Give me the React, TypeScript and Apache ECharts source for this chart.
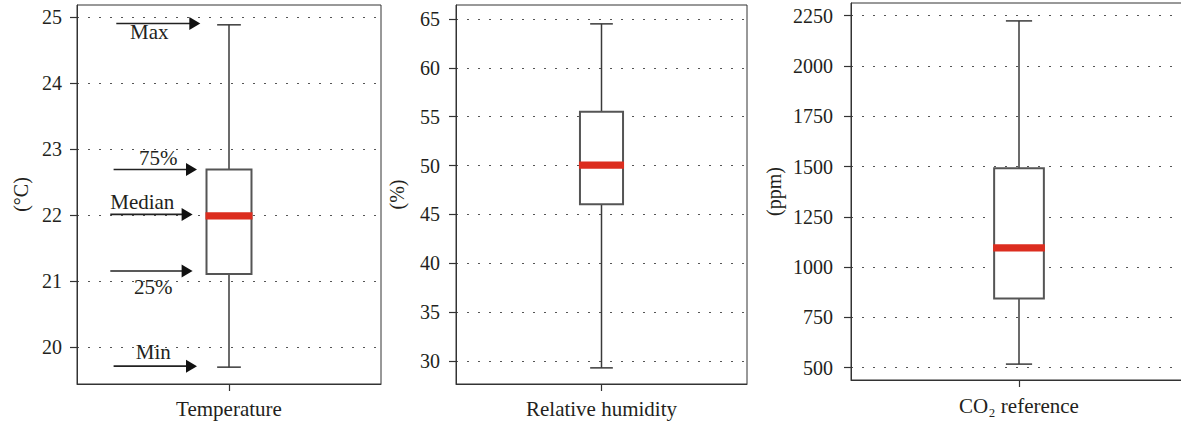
import React, { useEffect, useRef } from 'react';
import * as echarts from 'echarts';

// ---- data ----
const categories = ['Temperature', 'Relative humidity', 'CO₂ reference'];
const yAxisNames = ['(°C)', '(%)', '(ppm)'];
// [min, Q1, median, Q3, max]
const temperatureStats = [19.7, 21.11, 21.99, 22.69, 24.88];
const humidityStats = [29.3, 46.05, 50.05, 55.5, 64.5];
const co2Stats = [518, 844, 1096, 1492, 2224];
const temperatureTicks = [20, 21, 22, 23, 24, 25];
const humidityTicks = [30, 35, 40, 45, 50, 55, 60, 65];
const co2Ticks = [500, 750, 1000, 1250, 1500, 1750, 2000, 2250];
const yMins = [19.445, 27.65, 439];
const yMaxs = [25.18, 66.43, 2313];
const annotationLabels = ['Max', '75%', 'Median', '25%', 'Min'];
const annotationStatIndex = [4, 3, 2, 1, 0];

// ---- layout / style ----
const PANELS = [
  { left: 77, top: 5, width: 304, height: 379, labelMargin: 15, nameGap: 46, catMargin: 14 },
  { left: 456, top: 5, width: 291, height: 379, labelMargin: 16, nameGap: 49, catMargin: 14 },
  { left: 851, top: 3, width: 336, height: 377, labelMargin: 18, nameGap: 67, catMargin: 15 },
];
// offsets (px) relative to box centre and statistic position
const ANNOTATION_LAYOUT = [
  { startDx: -112.7, tipDx: -28.7, arrowDy: -1.4, textDx: -79.7, textDy: 7 },
  { startDx: -115.4, tipDx: -32, arrowDy: 0, textDx: -70.7, textDy: -11.8 },
  { startDx: -118.7, tipDx: -36.4, arrowDy: -1.4, textDx: -86.7, textDy: -13.7 },
  { startDx: -118.7, tipDx: -36.4, arrowDy: -3, textDx: -75.7, textDy: 12.6 },
  { startDx: -115.4, tipDx: -32, arrowDy: -1, textDx: -75.7, textDy: -15.3 },
];
const FONT = 'Liberation Serif';
const TEXT = '#231f20';
const FRAME = '#333';
const BOX_RATIO = 0.148;
const CAP_RATIO = 0.078;

function renderBox(params: any, api: any) {
  const c = api.value(0);
  const pts = [1, 2, 3, 4, 5].map((i) => api.coord([c, api.value(i)]));
  const [pMin, pQ1, pMed, pQ3, pMax] = pts;
  const cx = pMin[0];
  const band = api.size([1, 0])[0];
  const hb = (band * BOX_RATIO) / 2;
  const hc = (band * CAP_RATIO) / 2;
  const whisker = { stroke: '#3a3a3a', lineWidth: 1.5 };
  return {
    type: 'group',
    children: [
      { type: 'line', shape: { x1: cx, y1: pMax[1], x2: cx, y2: pQ3[1] }, style: whisker },
      { type: 'line', shape: { x1: cx, y1: pQ1[1], x2: cx, y2: pMin[1] }, style: whisker },
      { type: 'line', shape: { x1: cx - hc, y1: pMax[1], x2: cx + hc, y2: pMax[1] }, style: whisker },
      { type: 'line', shape: { x1: cx - hc, y1: pMin[1], x2: cx + hc, y2: pMin[1] }, style: whisker },
      {
        type: 'rect',
        shape: { x: cx - hb, y: pQ3[1], width: 2 * hb, height: pQ1[1] - pQ3[1] },
        style: { fill: '#fff', stroke: '#555', lineWidth: 2 },
      },
      {
        type: 'rect',
        shape: { x: cx - hb - 1, y: pMed[1] - 3.6, width: 2 * hb + 2, height: 7.2 },
        style: { fill: '#dc2d1f' },
      },
    ],
  };
}

function renderAnnotation(params: any, api: any) {
  const i = params.dataIndex;
  const L = ANNOTATION_LAYOUT[i];
  const p = api.coord([api.value(0), api.value(1)]);
  const cx = p[0];
  const y = p[1] + L.arrowDy;
  const tip = cx + L.tipDx;
  const head = 11;
  return {
    type: 'group',
    children: [
      {
        type: 'line',
        shape: { x1: cx + L.startDx, y1: y, x2: tip - head + 1, y2: y },
        style: { stroke: '#222', lineWidth: 1.6 },
      },
      {
        type: 'polygon',
        shape: { points: [[tip, y], [tip - head, y - 6.5], [tip - head, y + 6.5]] },
        style: { fill: '#111' },
      },
      {
        type: 'text',
        x: cx + L.textDx,
        y: p[1] + L.textDy,
        style: {
          text: annotationLabels[i],
          fontSize: 21,
          fontFamily: FONT,
          fill: TEXT,
          align: 'center',
          verticalAlign: 'middle',
        },
      },
    ],
  };
}

export default function App() {
  const ref = useRef<HTMLDivElement>(null);
  useEffect(() => {
    if (!ref.current) return;
    const chart = echarts.init(ref.current, undefined, { renderer: 'svg' });
    const statsList = [temperatureStats, humidityStats, co2Stats];
    const tickList = [temperatureTicks, humidityTicks, co2Ticks];

    const grid = PANELS.map((p) => ({
      left: p.left,
      top: p.top,
      width: p.width,
      height: p.height,
      show: true,
      borderColor: FRAME,
      borderWidth: 1,
      backgroundColor: 'transparent',
      containLabel: false,
      outerBoundsMode: 'none',
    }));

    const xAxis = PANELS.map((p, i) => ({
      type: 'category',
      gridIndex: i,
      data: [categories[i]],
      boundaryGap: true,
      axisLine: { show: true, lineStyle: { color: FRAME, width: 1 } },
      axisTick: { show: true, alignWithLabel: true, length: 7, lineStyle: { color: FRAME, width: 1.2 } },
      axisLabel: { fontSize: 21, fontFamily: FONT, color: TEXT, margin: p.catMargin },
      splitLine: { show: false },
    }));

    const yAxis = PANELS.map((p, i) => ({
      type: 'value',
      gridIndex: i,
      min: yMins[i],
      max: yMaxs[i],
      name: yAxisNames[i],
      nameLocation: 'middle',
      nameGap: p.nameGap,
      nameRotate: 90,
      nameTextStyle: { fontSize: 20, fontFamily: FONT, color: TEXT },
      axisLine: { show: true, lineStyle: { color: FRAME, width: 1 } },
      axisTick: { show: true, length: 7, customValues: tickList[i], lineStyle: { color: FRAME, width: 1.2 } },
      axisLabel: {
        fontSize: 20,
        fontFamily: FONT,
        color: TEXT,
        margin: p.labelMargin,
        customValues: tickList[i],
        formatter: (v: number) => String(v),
      },
      splitLine: { show: true, lineStyle: { type: [2, 9], color: '#555', width: 1.2 } },
    }));

    const series: any[] = statsList.map((s, i) => ({
      type: 'custom',
      xAxisIndex: i,
      yAxisIndex: i,
      renderItem: renderBox,
      encode: { x: 0, y: [1, 2, 3, 4, 5] },
      data: [[0, ...s]],
      clip: false,
      z: 3,
    }));
    series.push({
      type: 'custom',
      xAxisIndex: 0,
      yAxisIndex: 0,
      renderItem: renderAnnotation,
      encode: { x: 0, y: 1 },
      data: annotationStatIndex.map((k) => [0, temperatureStats[k]]),
      clip: false,
      z: 4,
    });

    chart.setOption({
      animation: false,
      backgroundColor: '#fff',
      textStyle: { fontFamily: FONT, fontSize: 20, color: TEXT },
      grid,
      xAxis,
      yAxis,
      series,
    });
    return () => chart.dispose();
  }, []);
  return (
    <div
      ref={ref}
      style={{ position: 'fixed', left: 0, top: 0, width: 1181, height: 421, background: '#fff' }}
    />
  );
}
